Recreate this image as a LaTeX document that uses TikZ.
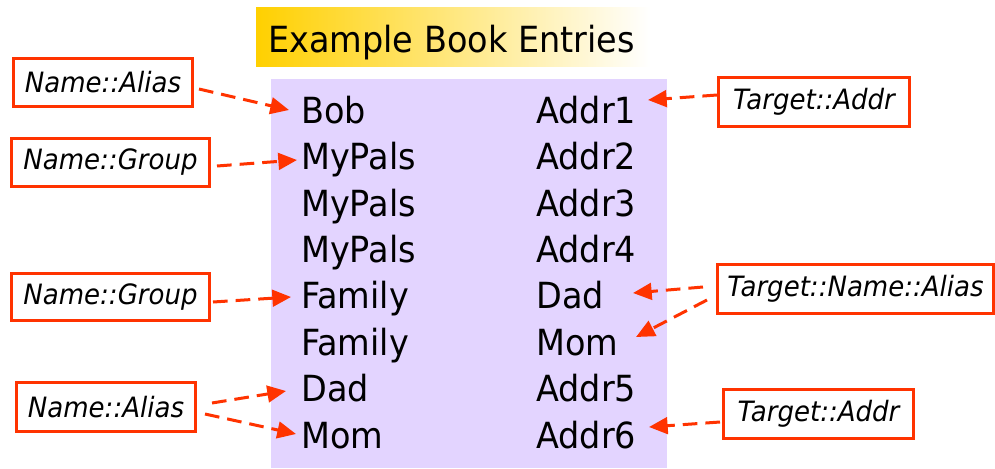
\documentclass[tikz,border=0pt]{standalone}
\usepackage{fontspec}
\setmainfont{DejaVu Sans}[FakeStretch=0.93]
\usetikzlibrary{arrows.meta}
\definecolor{lblred}{RGB}{255,51,0}
\definecolor{lav}{RGB}{227,212,255}
\definecolor{gold}{RGB}{255,208,0}
\tikzset{
  entry/.style={anchor=base west,inner sep=0pt,font=\fontsize{27}{27}\selectfont},
  lbl/.style={draw=lblred,line width=2.25pt,outer sep=0pt,inner sep=0pt,fill=white,
    font=\fontsize{21}{21}\selectfont\itshape},
  arr/.style={draw=lblred,line width=2.25pt,dash pattern=on 11pt off 6pt,
    -{Triangle[length=14pt,width=12.5pt]}}
}
\begin{document}
\begin{tikzpicture}[x=0.75pt,y=-0.75pt]
\useasboundingbox (0,0) rectangle (995,468);
% title
\shade[left color=gold,right color=white] (256,7) rectangle (650,66);
\node[anchor=base west,inner sep=0pt,font=\fontsize{27}{27}\selectfont] (title) at (268,52) {Example Book Entries};
% purple box
\fill[lav] (271,79) rectangle (667,468);
% left column
\node[entry] (bob) at (301,123) {Bob};
\node[entry] (pals1) at (301,169.5) {MyPals};
\node[entry] (pals2) at (301,216) {MyPals};
\node[entry] (pals3) at (301,262) {MyPals};
\node[entry] (fam1) at (301,308.5) {Family};
\node[entry] (fam2) at (301,355) {Family};
\node[entry] (dadl) at (301,401.5) {Dad};
\node[entry] (moml) at (301,448) {Mom};
% right column
\node[entry] (a1) at (536,123) {Addr1};
\node[entry] (a2) at (536,169.5) {Addr2};
\node[entry] (a3) at (536,216) {Addr3};
\node[entry] (a4) at (536,262) {Addr4};
\node[entry] (dadr) at (536,308.5) {Dad};
\node[entry] (momr) at (536,355) {Mom};
\node[entry] (a5) at (536,401.5) {Addr5};
\node[entry] (a6) at (536,448) {Addr6};
% labels
\node[lbl,minimum width=134.25pt,minimum height=36pt] (la1) at (103,82.5) {Name::Alias};
\node[lbl,minimum width=148.5pt,minimum height=36pt] (lg1) at (110.5,162.5) {Name::Group};
\node[lbl,minimum width=148.5pt,minimum height=35.25pt] (lg2) at (110.5,297) {Name::Group};
\node[lbl,minimum width=134.25pt,minimum height=36.75pt] (la2) at (106,407) {Name::Alias};
\node[lbl,minimum width=143.25pt,minimum height=36.75pt] (ta1) at (814,102) {Target::Addr};
\node[lbl,minimum width=207pt,minimum height=36.75pt] (tna) at (855.5,289) {Target::Name::Alias};
\node[lbl,minimum width=142.5pt,minimum height=36.75pt] (ta2) at (818.5,414) {Target::Addr};
% connectors
\draw[arr] ([shift={(6.5,6.5)}]la1.east) -- ([shift={(-12,-13)}]bob.base west);
\draw[arr] ([shift={(7.5,3.5)}]lg1.east) -- ([shift={(-4,-9.5)}]pals1.base west);
\draw[arr] ([shift={(3.5,5)}]lg2.east) -- ([shift={(-10,-11.5)}]fam1.base west);
\draw[arr] ([shift={(16.5,-4)}]la2.east) -- ([shift={(-15,-10.5)}]dadl.base west);
\draw[arr] ([shift={(9.5,7)}]la2.east) -- ([shift={(-5,-14)}]moml.base west);
\draw[arr] ([shift={(-1.5,-7)}]ta1.west) -- ([shift={(112,-23)}]a1.base west);
\draw[arr] ([shift={(-14.5,-2)}]tna.west) -- ([shift={(97,-15.5)}]dadr.base west);
\draw[arr] ([shift={(-10.5,11)}]tna.west) -- ([shift={(100,-18)}]momr.base west);
\draw[arr] ([shift={(-3.5,8)}]ta2.west) -- ([shift={(113,-21)}]a6.base west);
\end{tikzpicture}
\end{document}
